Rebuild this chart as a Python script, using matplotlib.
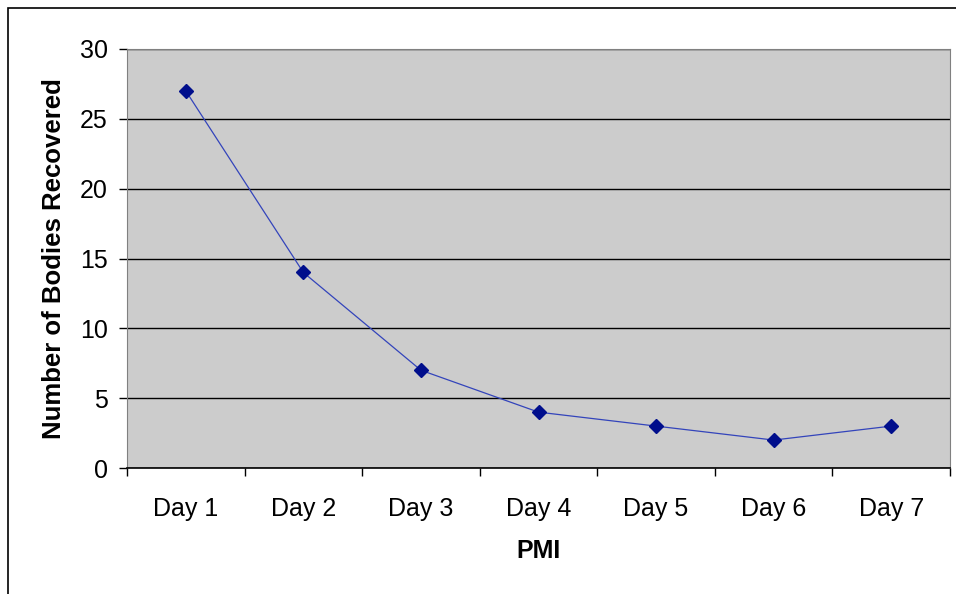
import matplotlib.pyplot as plt
from matplotlib.patches import Rectangle

days = ["Day 1", "Day 2", "Day 3", "Day 4", "Day 5", "Day 6", "Day 7"]
bodies = [27, 14, 7, 4, 3, 2, 3]
y_ticks = [0, 5, 10, 15, 20, 25, 30]

plt.rcParams["font.family"] = ["Liberation Sans", "DejaVu Sans"]

fig = plt.figure(figsize=(9.56, 5.94), dpi=100)
fig.patches.append(Rectangle((8 / 956, -0.1), 1.2, 1 - 8 / 594 + 0.1,
                             transform=fig.transFigure, fill=False,
                             edgecolor="black", linewidth=1.2))

ax = fig.add_axes([127 / 956, 126 / 594, 823 / 956, 419 / 594])
ax.set_facecolor("#cccccc")

x = list(range(len(days)))
ax.plot(x, bodies, color="#3344bb", linewidth=0.9, marker="D", markersize=7,
        markerfacecolor="#000e8c", markeredgecolor="#000e8c", zorder=3)

ax.set_xlim(-0.5, len(days) - 0.5)
ax.set_ylim(0, 30)
ax.set_yticks(y_ticks)
ax.set_xticks(x)
ax.set_xticklabels(days, fontsize=18)
ax.tick_params(axis="x", length=0, pad=21)
ax.set_xticks([i - 0.5 for i in range(len(days) + 1)], minor=True)
ax.tick_params(axis="x", which="minor", length=6, width=1, color="black")
ax.tick_params(axis="y", length=6, width=1, labelsize=18, pad=8)

ax.grid(axis="y", color="black", linewidth=1)
ax.set_axisbelow(True)

for side in ("left", "top", "right"):
    ax.spines[side].set_color("#808080")
ax.spines["bottom"].set_color("black")
ax.spines["bottom"].set_linewidth(1.2)

ax.set_xlabel("PMI", fontsize=18, fontweight="bold", labelpad=13)
ax.set_ylabel("Number of Bodies Recovered", fontsize=18.5, fontweight="bold", labelpad=10)

fig.savefig("out.png", dpi=100)
